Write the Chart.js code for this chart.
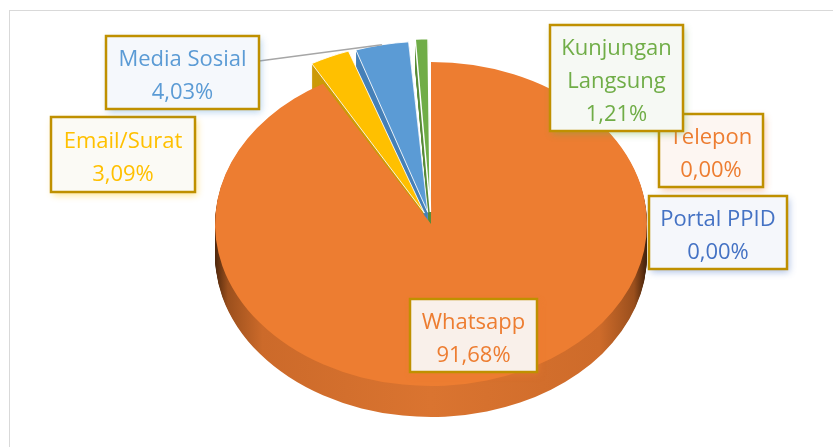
<!DOCTYPE html>
<html>
<head>
<meta charset="utf-8">
<title>Saluran Permohonan Informasi</title>
<script src="https://cdn.jsdelivr.net/npm/chart.js@4.4.1/dist/chart.umd.min.js"></script>
<style>
  html, body { margin: 0; padding: 0; background: #fff; }
  #wrap { width: 833px; height: 447px; }
</style>
</head>
<body>
<div id="wrap"><canvas id="chart" width="833" height="447"></canvas></div>
<script>
// Data (clockwise from 12 o'clock)
const labels = ['Whatsapp', 'Email/Surat', 'Media Sosial', 'Kunjungan Langsung', 'Telepon', 'Portal PPID'];
const percents = [91.68, 3.09, 4.03, 1.21, 0.00, 0.00];

// Colours
const faceColors = ['#ED7D31', '#FFC000', '#5B9BD5', '#70AD47', '#ED7D31', '#4472C4'];
const sideColors = ['#D4702D', '#CC9A08', '#4680B8', '#5A8C39', '#B85F22', '#2F5597'];
const boxFills = ['#F9F0EA', '#FBFAF5', '#F5F8FC', '#F6F9F4', '#FDF6F2', '#F5F7FB'];
const explode = [0, 64, 64, 64, 0, 0];
const borders = [0, 1, 1, 1.5, 0, 0];

// Callout boxes: left, top, width, height
const labelBoxes = [
    [410, 299, 127, 73],
    [51, 117, 144, 75],
    [106, 36, 153, 73],
    [550, 25, 133, 106],
    [659, 114, 104, 73],
    [649, 196, 138, 73]
];
const drawOrder = [0, 1, 2, 4, 3, 5];
const leaderFor = [2];

const squashRatio = 0.75;
const depth = 31;

const squash = (ctx, cy) => {
    ctx.translate(0, cy);
    ctx.scale(1, squashRatio);
    ctx.translate(0, -cy);
};

const formatPct = (v) => v.toFixed(2).replace('.', ',') + '%';

const hexToRgba = (hex, a) => {
    const n = parseInt(hex.slice(1), 16);
    return `rgba(${(n >> 16) & 255}, ${(n >> 8) & 255}, ${n & 255}, ${a})`;
};

// Wrap a label into lines that fit the box
const wrapLines = (ctx, text, maxWidth) => {
    const words = text.split(' ');
    let lines = [];
    let line = '';
    words.forEach((w) => {
        const test = line ? line + ' ' + w : w;
        if (line && ctx.measureText(test).width > maxWidth) {
            lines.push(line);
            line = w;
        } else {
            line = test;
        }
    });
    lines.push(line);
    return lines;
};

// Outer mid point of an (exploded) arc, in screen space
const arcTip = (arc, cy) => {
    const a = (arc.startAngle + arc.endAngle) / 2;
    const off = (arc.options.offset || 0) / 4;
    const fix = 1 - Math.sin(Math.min(Math.PI, arc.circumference));
    const r = arc.outerRadius + off + off * fix;
    const x = arc.x + Math.cos(a) * r;
    const y = arc.y + Math.sin(a) * r;
    return [x, cy + (y - cy) * squashRatio];
};

const pie3d = {
    id: 'pie3d',
    beforeDraw(chart) {
        const ctx = chart.ctx;
        ctx.save();
        ctx.strokeStyle = '#D9D9D9';
        ctx.lineWidth = 1;
        ctx.strokeRect(9.5, 10.5, 1000, 1000);
        ctx.restore();
    },
    beforeDatasetsDraw(chart) {
        const ctx = chart.ctx;
        const arcs = chart.getDatasetMeta(0).data;
        const cx = arcs[0].x, cy = arcs[0].y, r = arcs[0].outerRadius;

        // side wall of the big slice: darker towards both ends
        const grad = ctx.createLinearGradient(cx - r, 0, cx + r, 0);
        grad.addColorStop(0, '#4E270C');
        grad.addColorStop(0.03, '#9C501D');
        grad.addColorStop(0.11, '#CC6A2A');
        grad.addColorStop(0.5, '#DA7430');
        grad.addColorStop(0.89, '#CE6B2A');
        grad.addColorStop(0.97, '#9A4F1D');
        grad.addColorStop(1, '#3E1F09');

        for (let d = depth; d > 0; d--) {
            ctx.save();
            ctx.translate(0, d);
            squash(ctx, cy);
            arcs.forEach((arc, i) => {
                const side = Object.create(arc);
                side.options = Object.assign({}, arc.options, {
                    backgroundColor: i === 0 ? grad : sideColors[i],
                    borderWidth: 0
                });
                side.draw(ctx);
            });
            ctx.restore();
        }
        ctx.save();
        squash(ctx, cy);
    },
    afterDatasetsDraw(chart) {
        chart.ctx.restore();
    },
    afterDraw(chart) {
        const ctx = chart.ctx;
        const arcs = chart.getDatasetMeta(0).data;
        const cy = arcs[0].y;

        // leader lines
        leaderFor.forEach((i) => {
            const [bx, by, bw] = labelBoxes[i];
            const [tx, ty] = arcTip(arcs[i], cy);
            ctx.save();
            ctx.strokeStyle = '#A6A6A6';
            ctx.lineWidth = 1.5;
            ctx.beginPath();
            ctx.moveTo(bx + bw, by + 25);
            ctx.lineTo(tx, ty);
            ctx.stroke();
            ctx.restore();
        });

        // callout boxes
        drawOrder.forEach((i) => {
            const [x, y, w, h] = labelBoxes[i];
            ctx.save();
            ctx.shadowColor = hexToRgba(faceColors[i], 0.45);
            ctx.shadowBlur = 7;
            ctx.shadowOffsetX = 2;
            ctx.shadowOffsetY = 3;
            ctx.fillStyle = boxFills[i];
            ctx.fillRect(x, y, w, h);
            ctx.restore();

            ctx.save();
            ctx.strokeStyle = '#BF9000';
            ctx.lineWidth = 2.5;
            ctx.strokeRect(x, y, w, h);

            ctx.font = '22px "Open Sans"';
            ctx.fillStyle = faceColors[i];
            ctx.textAlign = 'center';
            ctx.textBaseline = 'alphabetic';
            const lines = wrapLines(ctx, labels[i], w - 12);
            lines.push(formatPct(percents[i]));
            const mid = y + h / 2;
            lines.forEach((t, k) => {
                ctx.fillText(t, x + w / 2, mid + (k - (lines.length - 1) / 2) * 33 + 10);
            });
            ctx.restore();
        });
    }
};

new Chart(document.getElementById('chart'), {
    type: 'pie',
    data: {
        labels: labels,
        datasets: [{
            data: percents,
            backgroundColor: faceColors,
            borderColor: '#ffffff',
            borderWidth: borders,
            offset: explode,
            radius: 216,
            clip: false
        }]
    },
    options: {
        responsive: false,
        animation: false,
        devicePixelRatio: 1,
        events: [],
        layout: {
            padding: { left: 29, top: 1 }
        },
        plugins: {
            legend: { display: false },
            tooltip: { enabled: false }
        }
    },
    plugins: [pie3d]
});
</script>
</body>
</html>
